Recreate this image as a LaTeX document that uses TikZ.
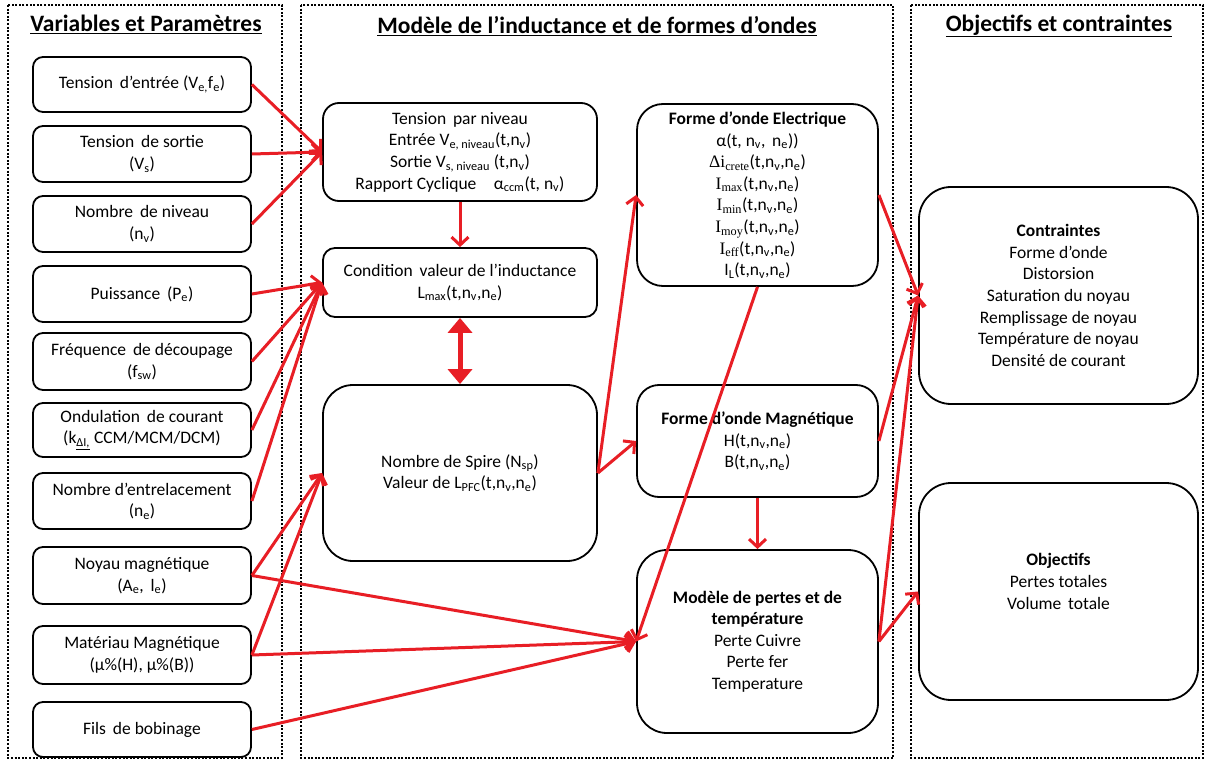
\documentclass[tikz,border=0pt]{standalone}
\usepackage{fontspec}
\setmainfont{Carlito}
\newfontfamily\tms{Liberation Serif}
\usetikzlibrary{arrows.meta}
\definecolor{arrred}{RGB}{232,30,37}
\newcommand{\bxfont}{\fontsize{17.5}{21.6}\selectfont}
\newcommand{\ttlfont}{\fontsize{23.5}{28}\selectfont\bfseries}
\newcommand{\subx}[1]{\textsubscript{#1}}
\begin{document}
\begin{tikzpicture}[x=1pt,y=-1pt,
  box/.style={draw=black, line width=1.8pt, rounded corners=#1, fill=white,
    align=center, inner sep=2pt, font=\bxfont},
  box/.default=10pt,
  panel/.style={draw=black, line width=2pt, dash pattern=on 2pt off 1.6pt},
  ttl/.style={font=\ttlfont, inner sep=0pt},
  arr/.style={draw=arrred, line width=3pt, -{Straight Barb[length=8pt,width=17pt]}},
  dbl/.style={draw=arrred, line width=5pt, {Triangle[length=15pt,width=24pt]}-{Triangle[length=15pt,width=24pt]}}
]
\useasboundingbox (0,0) rectangle (1208,762);
\fill[white] (0,0) rectangle (1208,762);

% panels
\draw[panel] (8,5) rectangle (282,758);
\draw[panel] (301,5) rectangle (893,758);
\draw[panel] (911,5) rectangle (1203,758);

% titles
\node[ttl] (t1) at (146,24) {\underline{Variables et Paramètres}};
\node[ttl] (t2) at (597,26) {\underline{Modèle de l’inductance et de formes d’ondes}};
\node[ttl] (t3) at (1059,26) {\underline{Objectifs et contraintes}};

% left column
\node[box, minimum width=218pt, minimum height=55pt] (n1) at (142,84.5) {Tension\, d’entrée (V\subx{e,}f\subx{e})};
\node[box, minimum width=218pt, minimum height=56pt] (n2) at (142,154) {Tension\, de sortie\\(V\subx{s})};
\node[box, minimum width=218pt, minimum height=56pt] (n3) at (142,224) {Nombre\, de niveau\\(n\subx{v})};
\node[box, minimum width=218pt, minimum height=56pt] (n4) at (142,294) {Puissance\, (P\subx{e})};
\node[box, minimum width=218pt, minimum height=57pt] (n5) at (142,361.5) {Fréquence\, de découpage\\(f\subx{sw})};
\node[box, minimum width=218pt, minimum height=54pt] (n6) at (142,430) {Ondulation\, de courant\\(k\subx{\underline{ΔI,}} CCM/MCM/DCM)};
\node[box, minimum width=218pt, minimum height=56pt] (n7) at (142,501) {Nombre d’entrelacement\\(n\subx{e})};
\node[box, minimum width=218pt, minimum height=57pt] (n8) at (142,575.5) {Noyau magnétique\\(A\subx{e}, \,l\subx{e})};
\node[box, minimum width=218pt, minimum height=58pt] (n9) at (142,655) {Matériau Magnétique\\(µ\%(H), µ\%(B))};
\node[box, minimum width=218pt, minimum height=55pt] (n10) at (142,729.5) {Fils\, de bobinage};

% middle-left column
\node[box=16pt, minimum width=274pt, minimum height=98pt] (tpn) at (460,152)
  {Tension\, par niveau\\Entrée V\subx{e, niveau}(t,n\subx{v})\\Sortie V\subx{s, niveau} (t,n\subx{v})\\Rapport Cyclique\quad α\subx{ccm}(t, n\subx{v})};
\node[box=12pt, minimum width=274pt, minimum height=69pt] (cond) at (460,282.5)
  {Condition\, valeur de l’inductance\\L\subx{max}(t,n\subx{v},n\subx{e})};
\node[box=30pt, minimum width=274pt, minimum height=176pt] (spire) at (460,473)
  {Nombre de Spire (N\subx{sp})\\Valeur de L\subx{PFC}(t,n\subx{v},n\subx{e})};

% middle-right column
\node[box=26pt, minimum width=241pt, minimum height=182pt] (elec) at (757.5,195)
  {\textbf{Forme d’onde Electrique}\\α(t, n\subx{v}, \,n\subx{e}))\\{\tms Δi\subx{crete}}(t,n\subx{v},n\subx{e})\\{\tms I\subx{max}}(t,n\subx{v},n\subx{e})\\{\tms I\subx{min}}(t,n\subx{v},n\subx{e})\\{\tms I\subx{moy}}(t,n\subx{v},n\subx{e})\\{\tms I\subx{eff}}(t,n\subx{v},n\subx{e})\\I\subx{L}(t,n\subx{v},n\subx{e})};
\node[box=22pt, minimum width=241pt, minimum height=112pt] (mag) at (757.5,441)
  {\textbf{Forme d’onde Magnétique}\\H(t,n\subx{v},n\subx{e})\\B(t,n\subx{v},n\subx{e})};
\node[box=30pt, minimum width=241pt, minimum height=183pt] (pertes) at (757.5,641.5)
  {\textbf{Modèle de pertes et de}\\\textbf{température}\\Perte Cuivre\\Perte fer\\Temperature};

% right column
\node[box=32pt, minimum width=279pt, minimum height=217pt] (contr) at (1058.5,295.5)
  {\textbf{Contraintes}\\Forme d’onde\\Distorsion\\Saturation du noyau\\Remplissage de noyau\\Température de noyau\\Densité de courant};
\node[box=32pt, minimum width=279pt, minimum height=217pt] (obj) at (1058.5,591.5) {};
\node[align=center, font=\bxfont, inner sep=0pt] (objt) at (1058.5,581.5)
  {\textbf{Objectifs}\\Pertes totales\\Volume\, totale};

% connectors
\draw[arr] (n1.east) -- (tpn.west);
\draw[arr] (n2.east) -- (tpn.west);
\draw[arr] (n3.east) -- (tpn.west);
\draw[arr] (n4.east) -- (cond.west);
\draw[arr] (n5.east) -- (cond.west);
\draw[arr] (n6.east) -- (cond.west);
\draw[arr] (n7.east) -- (cond.west);
\draw[arr] (n8.east) -- (spire.west);
\draw[arr] (n9.east) -- (spire.west);
\draw[arr] (n8.east) -- (pertes.west);
\draw[arr] (n9.east) -- (pertes.west);
\draw[arr] (n10.east) -- (pertes.west);
\draw[arr] (tpn.south) -- (cond.north);
\draw[dbl] (cond.south) -- (spire.north);
\draw[arr] (spire.east) -- (elec.west);
\draw[arr] (spire.east) -- (mag.west);
\draw[arr] (elec.south) -- (pertes.west);
\draw[arr] (mag.south) -- (pertes.north);
\draw[arr] (elec.east) -- (contr.west);
\draw[arr] (mag.east) -- (contr.west);
\draw[arr] (pertes.east) -- (contr.west);
\draw[arr] (pertes.east) -- (obj.west);
\end{tikzpicture}
\end{document}
